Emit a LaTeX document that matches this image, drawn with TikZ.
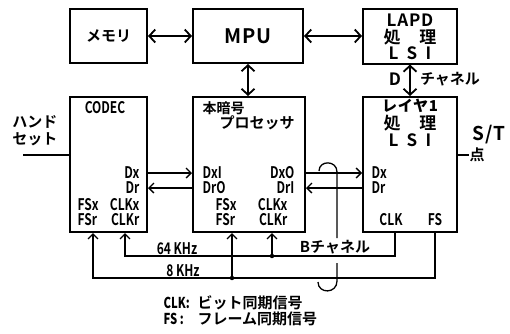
\documentclass[tikz,border=0pt]{standalone}
\usepackage{fontspec}
\setmainfont{Noto Sans CJK JP}[BoldFont={Noto Sans CJK JP Bold}]
\newfontfamily\narrowfont{Noto Sans CJK JP Bold}[FakeStretch=0.75]
\newfontfamily\widefont{Noto Sans CJK JP Bold}[LetterSpace=5]
\usetikzlibrary{arrows.meta,positioning}
\tikzset{
    block/.style={draw,line width=2pt,inner sep=0pt},
    box text/.style={inner sep=0pt,align=center,font=\widefont\fontsize{17}{17}\selectfont},
    jp text/.style={inner sep=0pt,font=\bfseries\fontsize{15}{17}\selectfont},
    pin label/.style={inner sep=0pt,font=\narrowfont\fontsize{16}{16}\selectfont},
    big arrow/.style={<->,line width=1.8pt,>={Straight Barb[length=6pt,width=13pt]}},
    >={Straight Barb[length=5pt,width=10pt]}
}
\begin{document}
\begin{tikzpicture}[x=1pt,y=-1pt,line width=1.3pt]
\useasboundingbox (0,0) rectangle (510,333);
\node[block,jp text,minimum width=77pt,minimum height=54pt] (mem) at (108.5,36) {メモリ};
\node[block,font=\widefont\fontsize{20}{20}\selectfont,minimum width=110pt,minimum height=54pt] (mpu) at (248,36) {MPU};
\node[block,minimum width=94pt,minimum height=55pt] (lapd) at (410,36) {};
\node[block,minimum width=77pt,minimum height=135pt] (codec) at (108.5,164.5) {};
\node[block,minimum width=112pt,minimum height=135pt] (proc) at (249,164.5) {};
\node[block,minimum width=94pt,minimum height=135pt] (phy) at (410,164.5) {};
\foreach \y/\t in {20/LAPD,37/処　理,53/{\addfontfeature{LetterSpace=50}LSI},
    106/{\bfseries\fontsize{15}{15}\selectfont レイヤ1},123/処　理,140/{\addfontfeature{LetterSpace=50}LSI}}
    \node[box text] (name-\y) at (410,\y) {\t};
\node[pin label] (codecname) at (105,108) {CODEC};
\node[jp text,font=\bfseries\fontsize{14}{14}\selectfont,anchor=west] (procname) at (202,108) {本暗号};
\node[jp text,anchor=west] (procname2) at (219,123) {プロセッサ};
\draw[big arrow] (mem) -- (mpu);
\draw[big arrow] (mpu) -- (lapd);
\draw[big arrow] (mpu.south) -- (mpu.south |- proc.north);
\draw[big arrow] (lapd) -- (phy);
\node[box text] (dname) at (395,79) {D};
\node[jp text] (dch) at (450,79) {チャネル};
\node[jp text,align=right,anchor=east] (hsname) at (58,131) {ハンド\\セット};
\coordinate (hsend) at (23,155);
\draw (hsend) -- (hsend -| codec.west);
\coordinate (stend) at (469,155);
\draw (phy.east |- stend) -- (stend);
\node[jp text,anchor=west] (stpt) at (stend) {点};
\node[box text,font=\widefont\fontsize{19}{19}\selectfont] (stname) at (489,135) {S/T};
\foreach \x/\y/\a/\t in {140/173/east/Dx,140/188/east/Dr,77/205/west/FSx,77/220/west/FSr,140/205/east/CLKx,140/220/east/CLKr,
    202/173/west/DxI,202/188/west/DrO,295/173/east/DxO,295/188/east/DrI,215/205/west/FSx,215/220/west/FSr,288/205/east/CLKx,288/220/east/CLKr,
    371/173/west/Dx,371/188/west/Dr,391/220/center/CLK,435/220/center/FS}
    \node[pin label,anchor=\a] (pin-\x-\y) at (\x,\y) {\t};
\coordinate (txrow) at (0,173);
\coordinate (rxrow) at (0,188);
\draw[->] (codec.east |- txrow) -- (proc.west |- txrow);
\draw[<-] (codec.east |- rxrow) -- (proc.west |- rxrow);
\draw[->] (proc.east |- txrow) -- (phy.west |- txrow);
\draw[<-] (proc.east |- rxrow) -- (phy.west |- rxrow);
\coordinate (rail64) at (0,256);
\coordinate (rail8) at (0,278);
\foreach \n/\x in {cfs/93,ccl/125,pfs/232,pcl/272,lcl/395,lfs/435}
    \coordinate (\n) at (\x,0);
\draw[<-] (ccl |- codec.south) -- (ccl |- rail64) -- (lcl |- rail64) -- (lcl |- phy.south);
\draw[<-] (cfs |- codec.south) -- (cfs |- rail8) -- (lfs |- rail8) -- (lfs |- phy.south);
\draw[<-] (pcl |- proc.south) -- (pcl |- rail64);
\draw[<-] (pfs |- proc.south) -- (pfs |- rail8);
\fill (pcl |- rail64) circle (2.2pt);
\fill (pfs |- rail8) circle (2.2pt);
\node[pin label,above=1pt] (lbl64) at (177,256) {64 KHz};
\node[pin label,above=1pt] (lbl8) at (183,278) {8 KHz};
\node[jp text,above=1pt] (bch) at (335,256) {Bチャネル};
\draw (319,171) .. controls (319,160) and (337,160) .. (337,172) -- (337,238);
\draw (337,263) -- (337,281) .. controls (337,294) and (318,294) .. (318,282);
\node[jp text,anchor=west,align=left,font=\bfseries\fontsize{15}{16}\selectfont] (legend) at (163,311)
    {\makebox[34pt][l]{\narrowfont CLK:}ビット同期信号\\\makebox[34pt][l]{\narrowfont FS :}フレーム同期信号};
\end{tikzpicture}
\end{document}
